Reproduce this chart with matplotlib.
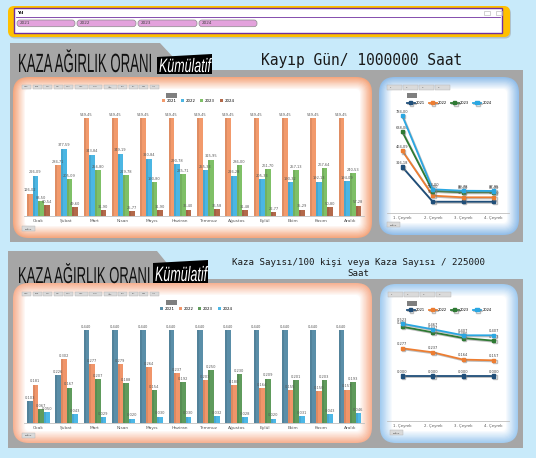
import numpy as np
import matplotlib.pyplot as plt
from matplotlib.patches import FancyBboxPatch, Rectangle, Polygon
from matplotlib.colors import to_rgb
from matplotlib.transforms import Affine2D
import matplotlib.patheffects as pe

# veriler
months = ['Ocak', 'Şubat', 'Mart', 'Nisan', 'Mayıs', 'Haziran', 'Temmuz',
          'Ağustos', 'Eylül', 'Ekim', 'Kasım', 'Aralık']
years = ['2021', '2022', '2023', '2024']
quarters = ['1. Çeyrek', '2. Çeyrek', '3. Çeyrek', '4. Çeyrek']

# Kayıp Gün / 1000000 Saat (aylık)
kayip_2021 = [126.02, 284.71, 549.45, 549.45, 549.45, 549.45, 549.45, 549.45, 549.45, 549.45, 549.45, 549.45]
kayip_2022 = [226.09, 377.59, 343.84, 349.19, 320.84, 290.78, 255.33, 226.28, 205.33, 190.32, 192.13, 194.09]
kayip_2023 = [83.50, 205.09, 256.80, 229.78, 190.80, 235.71, 315.95, 286.00, 261.70, 257.13, 267.64, 240.53]
kayip_2024 = [60.54, 49.60, 31.90, 25.77, 31.90, 36.40, 36.58, 31.48, 22.77, 35.29, 50.80, 57.28]

# Kayıp Gün (çeyrek)
kayip_q_2021 = [316.18, 0.0, 0.0, 0.0]
kayip_q_2022 = [464.09, 55.00, 40.00, 40.00]
kayip_q_2023 = [638.00, 98.00, 86.00, 86.00]
kayip_q_2024 = [784.00, 113.00, 99.78, 97.95]

# Kaza Sayısı (aylık)
kaza_2021 = [0.103, 0.226, 0.440, 0.440, 0.440, 0.440, 0.440, 0.440, 0.440, 0.440, 0.440, 0.440]
kaza_2022 = [0.181, 0.302, 0.277, 0.279, 0.264, 0.237, 0.203, 0.180, 0.164, 0.155, 0.150, 0.157]
kaza_2023 = [0.067, 0.167, 0.207, 0.188, 0.154, 0.192, 0.250, 0.230, 0.209, 0.201, 0.203, 0.193]
kaza_2024 = [0.050, 0.043, 0.029, 0.020, 0.030, 0.030, 0.032, 0.028, 0.020, 0.031, 0.043, 0.046]

# Kaza Sayısı (çeyrek)
kaza_q_2021 = [0.000, 0.000, 0.000, 0.000]
kaza_q_2022 = [0.277, 0.237, 0.164, 0.157]
kaza_q_2023 = [0.493, 0.437, 0.380, 0.353]
kaza_q_2024 = [0.523, 0.467, 0.407, 0.407]

W, H = 536, 458
fig = plt.figure(figsize=(W / 100, H / 100), dpi=100)
fig.patch.set_facecolor('#C8EAFA')

# arka plan ekseni (piksel koordinatları)
bg = fig.add_axes([0, 0, 1, 1])
bg.set_xlim(0, W)
bg.set_ylim(H, 0)
bg.axis('off')


class Squeeze(pe.AbstractPathEffect):
    # yazıyı yatayda daraltır (dar başlık fontu yerine)
    def __init__(self, sx):
        super().__init__()
        self.sx = sx

    def draw_path(self, renderer, gc, tpath, affine, rgbFace=None):
        renderer.draw_path(gc, tpath, Affine2D().scale(self.sx, 1) + affine, rgbFace)


def px_axes(x0, y0, x1, y1):
    ax = fig.add_axes([x0 / W, 1 - y1 / H, (x1 - x0) / W, (y1 - y0) / H])
    ax.patch.set_alpha(0)
    return ax


def rbox(x, y, w, h, r, **kw):
    p = FancyBboxPatch((x, y), w, h, boxstyle=f'round,pad=0,rounding_size={r}', **kw)
    bg.add_patch(p)
    return p


def card(x0, y0, x1, y1, edge, r=16, n=11, step=1.2):
    e = np.array(to_rgb(edge))
    for i in range(n):
        t = i / (n - 1)
        c = e * (1 - t) + np.ones(3) * t
        d = i * step
        rbox(x0 + d, y0 + d, x1 - x0 - 2 * d, y1 - y0 - 2 * d, max(r - d, 3), fc=c, ec='none')


def fmt(v, nd=2):
    return f'{v:.{nd}f}'.replace('.', ',')


# Yıl dilimleyici
rbox(9, 7.5, 502, 31, 6, fc='#9A9A9A', ec='none', alpha=0.5)
rbox(8, 6, 502, 31, 6, fc='#FFC000', ec='none')
bg.add_patch(Rectangle((14, 8.3), 488, 25, fc='white', ec='#7030A0', lw=1.0))
bg.plot([16, 500], [17.3, 17.3], color='#7030A0', lw=0.6)
bg.text(17, 12.8, 'Yıl', fontsize=3.2, fontweight='bold', va='center')
for i, (x0, x1) in enumerate([(17, 75), (77, 136), (138, 197), (199, 257)]):
    rbox(x0, 20, x1 - x0, 6.7, 3, fc='#E3A2DC', ec='#8C8C8C', lw=0.5)
    bg.text(x0 + 3, 23.4, years[i], fontsize=3, va='center', color='#404040')
for x in (484, 496):
    bg.add_patch(Rectangle((x, 10.5), 6, 4.5, fc='none', ec='#BFBFBF', lw=0.5))

# gri paneller
bg.add_patch(Polygon([(10, 43), (160, 43), (185, 70), (523, 70), (523, 242), (10, 242)],
                     closed=True, fc='#A6A6A6', ec='none'))
bg.add_patch(Polygon([(8, 251), (157, 251), (180, 279), (523, 279), (523, 448), (8, 448)],
                     closed=True, fc='#A6A6A6', ec='none'))

# başlıklar: (x, taban, punto, daraltma), kutu köşeleri, (x, taban, punto, daraltma)
titles = [((18, 72, 19, 0.50), [(157, 57), (212, 54), (212, 74), (157, 74)], (159, 72, 14, 0.64)),
          ((18, 283, 16.6, 0.565), [(153, 263), (208, 260), (208, 283), (153, 283)], (155, 281, 15, 0.60))]
for (tx, ty, tf, tsx), box, (kx, ky, kf, ksx) in titles:
    bg.text(tx, ty, 'KAZA AĞIRLIK ORANI', fontsize=tf, family='Liberation Sans',
            va='baseline', color='#111111', path_effects=[Squeeze(tsx)])
    bg.add_patch(Polygon(box, closed=True, fc='black', ec='none'))
    bg.text(kx, ky, 'Kümülatif', fontsize=kf, family='Liberation Sans', style='italic',
            color='white', va='baseline', path_effects=[Squeeze(ksx)])

bg.text(261, 61, 'Kayıp Gün/ 1000000 Saat', fontsize=10.5, family='DejaVu Sans Mono',
        va='center', color='#1A1A1A')
bg.text(358, 268, 'Kaza Sayısı/100 kişi veya Kaza Sayısı / 225000\nSaat', fontsize=6.6,
        family='DejaVu Sans Mono', va='center', ha='center', color='#1A1A1A', linespacing=1.15)

# kartlar
card(13, 77, 372, 238, '#F5A77F')
card(379, 77, 519, 235, '#93BFEA')
card(13, 283, 372, 443, '#F7B293')
card(380, 284, 518, 443, '#A3CCF0')

# küçük dilimleyici düğmeleri
btn_w = [9, 9, 9, 9, 9, 13, 13, 13, 9, 9, 9, 9]
for by in (84.5, 291.5):
    x = 22
    for i, w in enumerate(btn_w):
        bg.add_patch(Rectangle((x, by), w, 4.5, fc='#DADADA', ec='#B0B0B0', lw=0.3))
        bg.text(x + w / 2, by + 2.3, months[i][:3], fontsize=1.6, ha='center', va='center',
                color='#555555')
        x += w + 1.5
    bg.add_patch(Rectangle((166, by + 8), 11, 5, fc='#7F7F7F', ec='none'))
for bx, by in ((387, 84.5), (388, 292)):
    for i in range(4):
        bg.add_patch(Rectangle((bx + i * 16, by), 14.5, 5, fc='#DADADA', ec='#B0B0B0', lw=0.3))
        bg.text(bx + i * 16 + 3, by + 2.5, quarters[i][:2], fontsize=1.6, va='center',
                color='#555555')
    bg.add_patch(Rectangle((407, by + 8.5), 10, 5, fc='#7F7F7F', ec='none'))
for bx, by in ((22, 226), (387, 222), (22, 433), (390, 430)):
    bg.add_patch(Rectangle((bx, by), 13, 5, fc='#DADADA', ec='#B0B0B0', lw=0.3))
    bg.text(bx + 6.5, by + 2.5, 'Sağlık', fontsize=1.7, ha='center', va='center', color='#444444')


def bar_chart(box, series, colors, ymax, nd, leg_xy):
    ax = px_axes(*box)
    x = np.arange(len(months))
    w = 0.2
    for k, (vals, col) in enumerate(zip(series, colors)):
        pos = x + (k - 1.5) * w
        ax.bar(pos, vals, width=w, color=col, label=years[k], zorder=2)
        ax.bar(pos - w * 0.3, vals, width=w * 0.4, color='black', alpha=0.08, zorder=3)
        for p, v in zip(pos, vals):
            ax.text(p, v + ymax * 0.012, fmt(v, nd), fontsize=2.6, ha='center', va='bottom',
                    color='#595959')
    ax.set_xlim(-0.5, len(months) - 0.5)
    ax.set_ylim(0, ymax)
    ax.set_xticks(x)
    ax.set_xticklabels(months, fontsize=3.2, color='#595959')
    ax.tick_params(length=0, pad=2)
    ax.set_yticks([])
    for s in ('top', 'right', 'left'):
        ax.spines[s].set_visible(False)
    ax.spines['bottom'].set_color('#BFBFBF')
    ax.spines['bottom'].set_linewidth(0.6)
    ax.legend(ncol=4, fontsize=2.8, frameon=False, loc='center', handlelength=0.8,
              handleheight=0.8, columnspacing=1.2, handletextpad=0.4,
              bbox_to_anchor=leg_xy, bbox_transform=bg.transData)
    return ax


def line_chart(box, series, colors, ylim, nd, leg_xy):
    ax = px_axes(*box)
    x = np.arange(len(quarters))
    for k, (vals, col) in enumerate(zip(series, colors)):
        ax.plot(x, vals, color=col, lw=1.3, marker='s', ms=2.4, label=years[k], zorder=3,
                path_effects=[pe.SimpleLineShadow(offset=(0.8, -0.8), shadow_color='#7F7F7F',
                                                  alpha=0.5), pe.Normal()])
        for xi, v in zip(x, vals):
            if v == 0 and nd == 2:
                continue
            ax.text(xi, v + (ylim[1] - ylim[0]) * 0.02, fmt(v, nd), fontsize=2.6,
                    ha='center', va='bottom', color='#404040')
    ax.set_xlim(-0.5, len(quarters) - 0.5)
    ax.set_ylim(*ylim)
    ax.set_xticks(x)
    ax.set_xticklabels(quarters, fontsize=2.8, color='#595959')
    ax.tick_params(length=0, pad=2)
    ax.set_yticks([])
    for s in ('top', 'right', 'left'):
        ax.spines[s].set_visible(False)
    ax.spines['bottom'].set_color('#BFBFBF')
    ax.spines['bottom'].set_linewidth(0.6)
    ax.legend(ncol=4, fontsize=2.6, frameon=False, loc='center', handlelength=2.2,
              columnspacing=1.0, handletextpad=0.4,
              bbox_to_anchor=leg_xy, bbox_transform=bg.transData)
    return ax


bar_chart((24, 105, 364, 216), [kayip_2021, kayip_2022, kayip_2023, kayip_2024],
          ['#F29A6C', '#4BB6E3', '#7FC067', '#B3694A'], 622, 2, (198, 101))
bar_chart((24, 313, 364, 423), [kaza_2021, kaza_2022, kaza_2023, kaza_2024],
          ['#5A8EA8', '#F0956A', '#5F9B5C', '#4CB7E6'], 0.52, 3, (196, 309))

line_colors = ['#1F4E79', '#ED7D31', '#2E7A33', '#2AA7E2']
line_chart((387, 108, 509, 213), [kayip_q_2021, kayip_q_2022, kayip_q_2023, kayip_q_2024],
           line_colors, (-103, 854), 2, (449, 103))
line_chart((387, 315, 509, 421), [kaza_q_2021, kaza_q_2022, kaza_q_2023, kaza_q_2024],
           line_colors, (-0.45, 0.61), 3, (449, 310))

fig.savefig('out.png', dpi=100, facecolor=fig.get_facecolor())
